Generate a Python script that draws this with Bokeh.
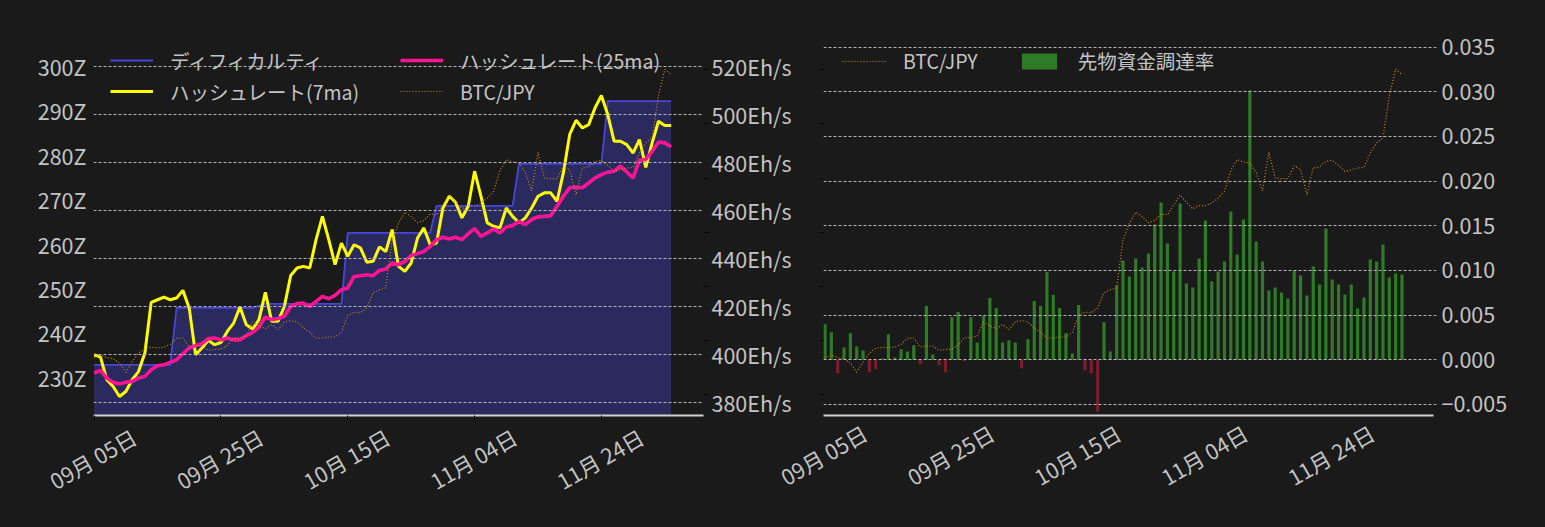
import numpy as np
import pandas as pd
from bokeh.plotting import figure
from bokeh.models import (Range1d, LinearAxis, FixedTicker, PrintfTickFormatter,
                          CustomJSTickFormatter, Legend, LegendItem, Grid,
                          ColumnDataSource)
from bokeh.layouts import row
from bokeh.embed import file_html
from bokeh.resources import INLINE

# ---------------- data ----------------
start_date = "2023-09-05"

difficulty_z = [
    232.85, 232.85, 232.85, 232.85, 232.85, 232.85, 232.85, 232.85, 232.85, 232.85,
    232.85, 232.85, 232.85, 245.66, 245.66, 245.66, 245.66, 245.66, 245.66, 245.66,
    245.66, 245.66, 245.66, 245.66, 245.66, 245.66, 246.10, 246.56, 246.56, 246.56,
    246.56, 246.56, 246.56, 246.56, 246.56, 246.56, 246.56, 246.56, 246.56, 246.56,
    262.52, 262.52, 262.52, 262.52, 262.52, 262.52, 262.52, 262.52, 262.52, 262.52,
    262.52, 262.52, 262.52, 262.52, 268.58, 268.58, 268.58, 268.58, 268.58, 268.58,
    268.58, 268.58, 268.58, 268.58, 268.58, 268.58, 268.58, 278.02, 278.02, 278.02,
    278.02, 278.02, 278.02, 278.02, 278.02, 278.02, 278.02, 278.02, 278.02, 278.02,
    278.02, 292.09, 292.09, 292.09, 292.09, 292.09, 292.09, 292.09, 292.09, 292.09,
    292.09, 292.09,
]

hashrate_7ma = [
    400.0, 399.0, 389.6, 386.8, 382.6, 384.7, 389.6, 393.0, 400.7, 421.8,
    422.9, 424.0, 422.9, 423.6, 426.8, 419.4, 400.0, 402.8, 406.0, 404.2,
    405.1, 409.7, 413.2, 419.9, 412.5, 410.7, 414.6, 426.0, 413.9, 413.9,
    420.1, 433.0, 436.1, 436.8, 436.1, 447.9, 457.6, 447.9, 437.5, 446.5,
    441.0, 445.8, 444.5, 438.5, 438.9, 444.9, 443.0, 452.1, 436.8, 434.7,
    438.2, 448.6, 452.8, 445.8, 446.5, 461.1, 466.0, 463.5, 457.0, 461.8,
    476.4, 466.0, 454.9, 453.5, 452.8, 461.1, 457.6, 454.9, 457.0, 461.1,
    466.0, 467.4, 467.4, 463.9, 475.7, 491.7, 497.6, 494.4, 495.8, 502.8,
    507.9, 500.0, 488.9, 488.9, 487.5, 484.0, 489.6, 478.0, 488.2, 497.2,
    495.4, 495.4,
]

hashrate_25ma = [
    392.4, 393.5, 390.3, 388.5, 387.8, 388.5, 388.9, 390.3, 391.0, 393.8,
    395.4, 395.8, 396.8, 397.9, 400.4, 402.8, 403.8, 404.6, 406.7, 407.0,
    406.2, 407.0, 406.2, 406.2, 407.9, 409.3, 411.5, 415.7, 414.6, 415.1,
    416.0, 420.1, 421.3, 421.5, 420.1, 422.2, 424.3, 423.3, 424.7, 427.1,
    427.8, 432.6, 432.9, 433.3, 432.9, 435.1, 435.7, 438.2, 437.5, 438.9,
    441.3, 442.1, 443.0, 445.1, 447.9, 448.9, 448.2, 448.9, 447.9, 450.4,
    452.5, 449.3, 450.7, 452.4, 450.7, 453.2, 453.8, 455.5, 454.2, 456.3,
    457.4, 457.6, 457.9, 461.8, 466.0, 469.5, 469.7, 469.5, 471.5, 473.6,
    475.0, 476.0, 476.4, 478.5, 476.1, 473.6, 481.0, 481.3, 484.7, 488.5,
    488.2, 486.5,
]

btc_jpy = [
    3839000, 3870000, 3842000, 3833000, 3793000, 3709000, 3802000, 3885000, 3929000, 3938000,
    3935000, 3938000, 3966000, 4021000, 4024000, 3941000, 3950000, 3950000, 3910000, 3917000,
    3922000, 3956000, 4028000, 4028000, 4040000, 4172000, 4135000, 4111000, 4148000, 4102000,
    4172000, 4185000, 4172000, 4117000, 4077000, 4024000, 4024000, 4033000, 4033000, 4074000,
    4234000, 4262000, 4256000, 4302000, 4441000, 4470000, 4486000, 4929000, 5083000, 5185000,
    5144000, 5089000, 5107000, 5169000, 5160000, 5253000, 5343000, 5278000, 5216000, 5246000,
    5244000, 5268000, 5315000, 5376000, 5570000, 5669000, 5648000, 5639000, 5552000, 5382000,
    5737000, 5500000, 5494000, 5494000, 5614000, 5577000, 5345000, 5593000, 5602000, 5654000,
    5663000, 5617000, 5561000, 5577000, 5593000, 5598000, 5731000, 5824000, 5870000, 6260000,
    6503000, 6456000,
]

funding_rate = [
    0.00398, 0.00308, -0.00150, 0.00139, 0.00297, 0.00150, 0.00105, -0.00139, -0.00105, 0.00015,
    0.00286, 0.00026, 0.00117, 0.00094, 0.00162, -0.00049, 0.00602, 0.00060, -0.00060, -0.00139,
    0.00477, 0.00534, -0.00015, 0.00477, 0.00195, 0.00492, 0.00692, 0.00579, 0.00195, 0.00218,
    0.00195, -0.00094, 0.00229, 0.00658, 0.00602, 0.00985, 0.00726, 0.00579, 0.00297, 0.00071,
    0.00613, -0.00117, -0.00150, -0.00579, 0.00421, 0.00094, 0.00832, 0.01112, 0.00933, 0.01134,
    0.01034, 0.01190, 0.01515, 0.01761, 0.01302, 0.00989, 0.01750, 0.00854, 0.00810, 0.01134,
    0.01560, 0.00877, 0.00989, 0.01101, 0.01660, 0.01179, 0.01571, 0.03015, 0.01325, 0.01101,
    0.00776, 0.00810, 0.00754, 0.00687, 0.01000, 0.00944, 0.00720, 0.01045, 0.00843, 0.01470,
    0.00899, 0.00843, 0.00731, 0.00843, 0.00575, 0.00698, 0.01123, 0.01101, 0.01291, 0.00922,
    0.00966, 0.00955,
]

tick_dates = ["2023-09-05", "2023-09-25", "2023-10-15", "2023-11-04", "2023-11-24"]
tick_labels = ["09月 05日", "09月 25日", "10月 15日", "11月 04日", "11月 24日"]
z_ticks = [230, 240, 250, 260, 270, 280, 290, 300]
hash_ticks = [380, 400, 420, 440, 460, 480, 500, 520]
btc_ticks = [3500000, 4000000, 4500000, 5000000, 5500000, 6000000, 6500000]
funding_ticks = [-0.005, 0.0, 0.005, 0.010, 0.015, 0.020, 0.025, 0.030, 0.035]

# ---------------- style ----------------
BG = "#1a1a1a"
TXT = "#c4c4c4"
FONT = "Noto Sans CJK JP"
FS = "19.5px"        # legend text
FS_TICK = "21.5px"   # tick labels
GRID = "#b4b4b4"
DAY = 86400000.0
LABEL_SHIFT_DAYS = 6.3   # rotated labels are right-anchored in Bokeh; shift so they sit centred on ticks

dates = pd.date_range(start_date, periods=len(difficulty_z), freq="D")
t0 = pd.Timestamp(start_date).value / 1e6
tick_ms = [pd.Timestamp(d).value / 1e6 for d in tick_dates]


def blank():
    return CustomJSTickFormatter(code="return ''")


def base_fig(x0, x1, y0, y1, tick_len, **kw):
    p = figure(frame_width=610, frame_height=381, x_axis_type="datetime",
               x_range=Range1d(t0 + x0 * DAY, t0 + x1 * DAY), y_range=Range1d(y0, y1),
               output_backend="svg", toolbar_location=None,
               background_fill_color=BG, border_fill_color=BG, outline_line_color=None,
               min_border_top=26, min_border_bottom=95, **kw)
    p.xgrid.visible = False
    xa = p.xaxis[0]
    xa.ticker = FixedTicker(ticks=tick_ms)
    xa.formatter = blank()
    xa.major_label_text_font_size = "1px"
    xa.axis_line_color = "#d2d2d2"
    xa.axis_line_width = 2
    xa.major_tick_line_color = "#050505"
    xa.major_tick_out = tick_len
    xa.major_tick_in = 0
    xa.minor_tick_line_color = None
    xa.major_label_standoff = 0
    # label axis: rotated date labels
    la = LinearAxis(ticker=FixedTicker(ticks=[t + LABEL_SHIFT_DAYS * DAY for t in tick_ms]),
                    formatter=CustomJSTickFormatter(args=dict(labels=tick_labels),
                                                    code="return labels[index]"))
    la.axis_line_color = None
    la.major_tick_line_color = None
    la.major_tick_out = 0
    la.major_tick_in = 0
    la.minor_tick_line_color = None
    la.major_label_orientation = np.pi / 6
    la.major_label_standoff = 15
    la.major_label_text_font = FONT
    la.major_label_text_font_size = FS_TICK
    la.major_label_text_color = TXT
    p.add_layout(la, "below")
    return p


def style_axis(ax, standoff, tick_out=0, tick_color="#050505"):
    ax.axis_line_color = None
    ax.major_tick_out = tick_out
    ax.major_tick_in = 0
    ax.major_tick_line_color = tick_color
    ax.minor_tick_line_color = None
    ax.major_label_text_font = FONT
    ax.major_label_text_font_size = FS_TICK
    ax.major_label_text_color = TXT
    ax.major_label_standoff = standoff


def style_legend(lg, gw, gh):
    lg.background_fill_alpha = 0
    lg.border_line_color = None
    lg.label_text_font = FONT
    lg.label_text_font_size = FS
    lg.label_text_color = TXT
    lg.glyph_width = gw
    lg.glyph_height = gh
    lg.label_height = gh
    lg.label_standoff = 17
    lg.padding = 0
    lg.margin = 0


# ---------------- left chart ----------------
p1 = base_fig(-0.1, 96.1, 221.46, 307.08, 4, min_border_left=85, min_border_right=100)
p1.extra_y_ranges = {"hash": Range1d(374.71, 533.32), "btc": Range1d(3309000, 6824000)}
p1.ygrid.visible = False

za = p1.yaxis[0]
za.ticker = FixedTicker(ticks=z_ticks)
za.formatter = PrintfTickFormatter(format="%dZ")
style_axis(za, 7)

btc_ax1 = LinearAxis(y_range_name="btc", ticker=FixedTicker(ticks=btc_ticks), formatter=blank())
style_axis(btc_ax1, 0, tick_out=5)
btc_ax1.major_label_text_font_size = "1px"
p1.add_layout(btc_ax1, "right")

hash_ax = LinearAxis(y_range_name="hash", ticker=FixedTicker(ticks=hash_ticks),
                     formatter=PrintfTickFormatter(format="%dEh/s"))
style_axis(hash_ax, 3)
p1.add_layout(hash_ax, "right")

g1 = Grid(dimension=1, ticker=FixedTicker(ticks=hash_ticks), y_range_name="hash",
          grid_line_color=GRID, grid_line_dash="3 2", grid_line_width=1, level="glyph")
p1.add_layout(g1)

p1.varea(x=dates, y1=0, y2=difficulty_z, fill_color="#2a2a5e", level="underlay")
r_diff = p1.line(dates, difficulty_z, line_color="#4646dc", line_width=1.8)
r_h7 = p1.line(dates, hashrate_7ma, y_range_name="hash", line_color="#ffff00", line_width=3)
r_h25 = p1.line(dates, hashrate_25ma, y_range_name="hash", line_color="#ff1493", line_width=3.6)
r_btc1 = p1.line(dates, btc_jpy, y_range_name="btc", line_color="#c98a12", line_width=1.2,
                 line_dash="1 2")

lgA = Legend(items=[LegendItem(label="ディフィカルティ", renderers=[r_diff]),
                    LegendItem(label="ハッシュレート(7ma)", renderers=[r_h7])],
             location=(17, 309))
lgB = Legend(items=[LegendItem(label="ハッシュレート(25ma)", renderers=[r_h25]),
                    LegendItem(label="BTC/JPY", renderers=[r_btc1])],
             location=(307, 309))
for lg in (lgA, lgB):
    style_legend(lg, 43, 30)
    lg.spacing = 1
    p1.add_layout(lg)

# ---------------- right chart ----------------
p2 = base_fig(-0.24, 95.97, -0.006235, 0.036416, 0, y_axis_location="right",
              min_border_left=60, min_border_right=100)
p2.border_fill_alpha = 0
p2.styles = {"margin-left": "-40px"}
p2.extra_y_ranges = {"btc": Range1d(3309000, 6824000)}

fa = p2.yaxis[0]
fa.ticker = FixedTicker(ticks=funding_ticks)
fa.formatter = PrintfTickFormatter(format="%.3f")
fa.major_label_overrides = {-0.005: "−0.005"}
style_axis(fa, 5, tick_out=3, tick_color="#9a9a9a")
p2.ygrid.ticker = FixedTicker(ticks=funding_ticks)
p2.ygrid.grid_line_color = GRID
p2.ygrid.grid_line_dash = "3 2"
p2.ygrid.grid_line_width = 1
p2.ygrid.level = "glyph"

btc_ax2 = LinearAxis(y_range_name="btc", ticker=FixedTicker(ticks=btc_ticks), formatter=blank())
style_axis(btc_ax2, 0, tick_out=4)
btc_ax2.major_label_text_font_size = "1px"
p2.add_layout(btc_ax2, "left")

bar_src = ColumnDataSource(dict(
    x=dates, top=funding_rate,
    color=["#2e7b26" if v >= 0 else "#7c1d2a" for v in funding_rate]))
r_bar = p2.vbar(x="x", top="top", bottom=0, width=0.5 * DAY, source=bar_src,
                fill_color="color", line_color=None, level="underlay")
r_btc2 = p2.line(dates, btc_jpy, y_range_name="btc", line_color="#c98a12", line_width=1.2,
                 line_dash="1 2")

lgC = Legend(items=[LegendItem(label="BTC/JPY", renderers=[r_btc2]),
                    LegendItem(label="先物資金調達率", renderers=[r_bar], index=0)],
             location=(19, 340), orientation="horizontal")
style_legend(lgC, 44, 20)
lgC.spacing = 39
p2.add_layout(lgC)

layout = row(p1, p2)
layout.styles = {"background-color": BG}
html = file_html(layout, INLINE)
html = html.replace("<body>", '<body style="background-color:#1a1a1a;margin:8px;">')
open("out.html", "w").write(html)
